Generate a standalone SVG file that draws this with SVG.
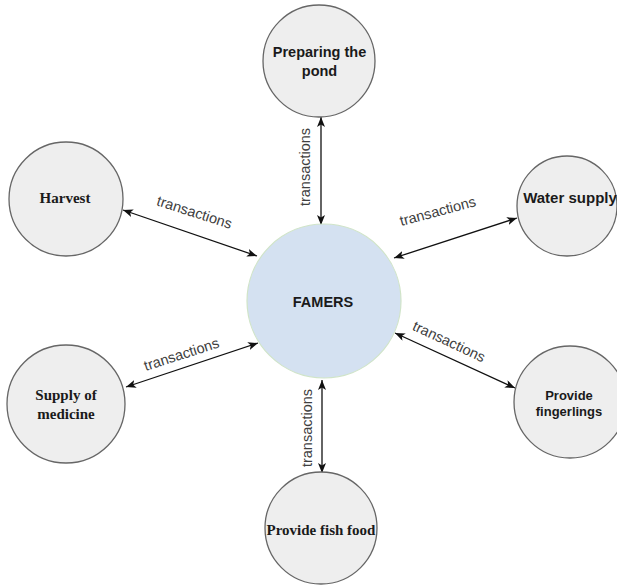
<svg xmlns="http://www.w3.org/2000/svg" width="617" height="585" viewBox="0 0 617 585">
<style>
.outer{fill:#eeeeee;stroke:#666666;stroke-width:1.3}
.center{fill:#d4e1f1;stroke:#d0e4c8;stroke-width:1.2}
.sans{font-family:"Liberation Sans",Arial,sans-serif;font-weight:bold;fill:#1a1a1a;text-anchor:middle}
.serif{font-family:"Liberation Serif","Times New Roman",serif;font-weight:bold;fill:#1a1a1a;text-anchor:middle;font-size:15px}
.lbl{font-family:"Liberation Sans",Arial,sans-serif;font-size:14.5px;fill:#404040;text-anchor:middle}
.edge{stroke:#111111;stroke-width:1.3;fill:none;marker-start:url(#ah);marker-end:url(#ah)}
</style>
<defs>
<marker id="ah" viewBox="0 0 10 8" refX="10" refY="4" markerWidth="10" markerHeight="8" markerUnits="userSpaceOnUse" orient="auto-start-reverse">
<path d="M0,0 L10,4 L0,8 L2.5,4 z" fill="#111111"/>
</marker>
</defs>
<rect width="617" height="585" fill="#ffffff"/>
<g id="connectors">
<line class="edge" x1="321" y1="117" x2="321" y2="225"/>
<line class="edge" x1="123" y1="210" x2="257" y2="256"/>
<line class="edge" x1="394" y1="258" x2="517" y2="218"/>
<line class="edge" x1="126" y1="387" x2="258" y2="343"/>
<line class="edge" x1="395" y1="333" x2="515" y2="388"/>
<line class="edge" x1="322" y1="380" x2="322" y2="473"/>
<text class="lbl" transform="translate(310,167) rotate(-90)">transactions</text>
<text class="lbl" transform="translate(193,217) rotate(18)">transactions</text>
<text class="lbl" transform="translate(439,216) rotate(-15)">transactions</text>
<text class="lbl" transform="translate(183,359) rotate(-18)">transactions</text>
<text class="lbl" transform="translate(447,346) rotate(25)">transactions</text>
<text class="lbl" transform="translate(312,428) rotate(-90)">transactions</text>
</g>
<g id="farmers">
<circle class="center" cx="324" cy="301" r="77"/>
<text class="sans" x="323" y="307" font-size="14.5">FAMERS</text>
</g>
<g id="preparing">
<circle class="outer" cx="319" cy="61" r="56"/>
<text class="sans" x="319.5" y="57" font-size="14.5">Preparing the</text>
<text class="sans" x="319.5" y="76" font-size="14.5">pond</text>
</g>
<g id="harvest">
<circle class="outer" cx="66" cy="199" r="57"/>
<text class="serif" x="65" y="203">Harvest</text>
</g>
<g id="water">
<circle class="outer" cx="567" cy="206" r="50"/>
<text class="sans" x="570" y="203" font-size="15">Water supply</text>
</g>
<g id="medicine">
<circle class="outer" cx="66" cy="404" r="59"/>
<text class="serif" x="66" y="400">Supply of</text>
<text class="serif" x="66" y="419">medicine</text>
</g>
<g id="fingerlings">
<circle class="outer" cx="570" cy="402" r="56"/>
<text class="sans" x="569" y="400" font-size="13">Provide</text>
<text class="sans" x="569" y="416" font-size="13">fingerlings</text>
</g>
<g id="fishfood">
<circle class="outer" cx="321" cy="528" r="56"/>
<text class="serif" x="321" y="535">Provide fish food</text>
</g>
</svg>
